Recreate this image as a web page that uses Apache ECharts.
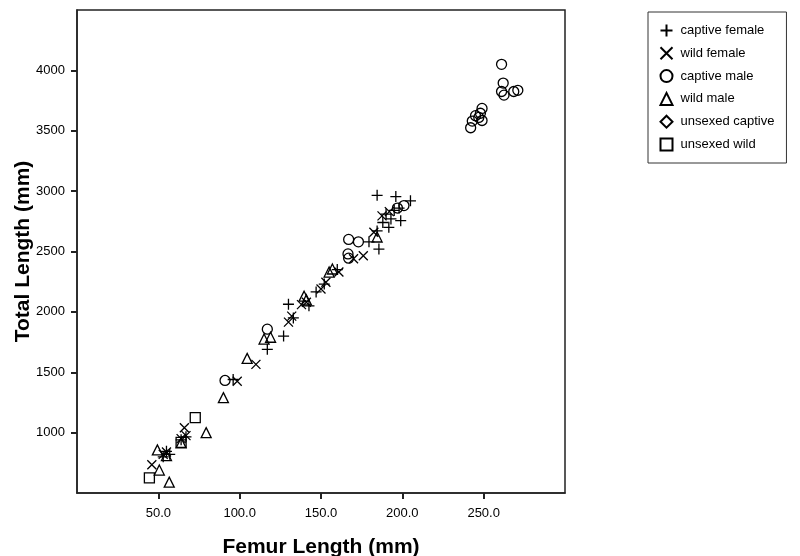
<!DOCTYPE html>
<html>
<head>
<meta charset="utf-8">
<script src="https://cdn.jsdelivr.net/npm/echarts@6/dist/echarts.min.js"></script>
<style>
  html, body { margin: 0; padding: 0; background: #fff; }
  #chart { width: 800px; height: 556px; }
</style>
</head>
<body>
<div id="chart"></div>
<script>
// femur length (mm), total length (mm)
var captiveFemale = [
  [184.5, 2965], [196, 2955], [205, 2920], [193, 2770], [199, 2755], [191.7, 2700],
  [184.5, 2670], [179.5, 2580], [185.6, 2520], [190, 2810], [195, 2840], [198, 2860],
  [188, 2740], [147, 2165], [142.6, 2050], [130, 2063], [133, 1950], [127, 1800],
  [117, 1690], [160, 2350], [152, 2230], [67, 965], [64, 940], [55, 845], [57, 820],
  [53, 800], [96, 1440]
];
var wildFemale = [
  [187.5, 2795], [182.5, 2660], [176, 2465], [192, 2830], [161, 2330], [153, 2245],
  [150, 2190], [141, 2080], [132, 1965], [130, 1915], [110, 1565], [98.5, 1425],
  [66, 1040], [67, 975], [64, 950], [55, 840], [53, 820], [46, 734], [170, 2440],
  [138, 2060]
];
var captiveMale = [
  [167, 2600], [173, 2580], [166.6, 2480], [167, 2445], [201, 2880], [197, 2860],
  [117, 1857], [91, 1432], [261, 4050], [262, 3895], [261, 3825], [262.5, 3795],
  [268.5, 3825], [271, 3835], [249, 3685], [248, 3645], [245, 3625], [247, 3610],
  [249, 3585], [243, 3580], [242, 3525]
];
var wildMale = [
  [184.5, 2620], [157, 2355], [155, 2330], [139.6, 2130], [141, 2100], [119, 1790],
  [115, 1775], [104.6, 1615], [90, 1290], [79.4, 1000], [64, 915], [49.4, 857],
  [55, 810], [50.6, 690], [56.7, 590]
];
var unsexedCaptive = [];
var unsexedWild = [[72.7, 1124], [44.5, 625], [64, 920]];

var xTicks = [50, 100, 150, 200, 250];
var yTicks = [1000, 1500, 2000, 2500, 3000, 3500, 4000];

var font = "'Liberation Sans', Arial, sans-serif";

function mk(name, data, symbol, size) {
  return {
    name: name,
    type: "scatter",
    data: data,
    symbol: symbol,
    symbolSize: size,
    itemStyle: { color: "none", borderColor: "#000", borderWidth: 1.3, opacity: 1 },
    emphasis: { disabled: true }
  };
}

var chart = echarts.init(document.getElementById("chart"));
chart.setOption({
  animation: false,
  backgroundColor: "#fff",
  grid: {
    left: 77, top: 10, right: 235, bottom: 63,
    show: true, borderColor: "#222", borderWidth: 1.5,
    containLabel: false, outerBoundsMode: "none"
  },
  legend: {
    orient: "vertical",
    left: 648,
    top: 12,
    padding: [10, 12, 10, 10],
    borderColor: "#333",
    borderWidth: 1,
    itemWidth: 12,
    itemHeight: 12,
    itemGap: 5.8,
    textStyle: { fontFamily: font, fontSize: 13, lineHeight: 13, color: "#000", padding: [0, 0, 0, 3] },
    data: ["captive female", "wild female", "captive male", "wild male", "unsexed captive", "unsexed wild"]
  },
  xAxis: {
    type: "value",
    min: 0, max: 300, interval: 50,
    name: "Femur Length (mm)",
    nameLocation: "middle",
    nameGap: 44,
    nameMoveOverlap: false,
    nameTextStyle: { fontFamily: font, fontSize: 21, fontWeight: "bold", color: "#000" },
    axisLine: { lineStyle: { color: "#222", width: 1.5 } },
    axisTick: { customValues: xTicks, length: 6, lineStyle: { color: "#222", width: 2 } },
    axisLabel: {
      customValues: xTicks, margin: 14,
      fontFamily: font, fontSize: 13, color: "#000",
      formatter: function (v) { return v.toFixed(1); }
    },
    splitLine: { show: false }
  },
  yAxis: {
    type: "value",
    min: 500, max: 4500, interval: 500,
    name: "Total Length (mm)",
    nameLocation: "middle",
    nameGap: 43,
    nameMoveOverlap: false,
    nameTextStyle: { fontFamily: font, fontSize: 21, fontWeight: "bold", color: "#000" },
    axisLine: { lineStyle: { color: "#222", width: 1.5 } },
    axisTick: { customValues: yTicks, length: 6, lineStyle: { color: "#222", width: 2 } },
    axisLabel: {
      customValues: yTicks, margin: 12,
      fontFamily: font, fontSize: 13, color: "#000",
      formatter: function (v) { return String(v); }
    },
    splitLine: { show: false }
  },
  series: [
    mk("captive female", captiveFemale, "path://M5,0 L5,10 M0,5 L10,5", 11),
    mk("wild female", wildFemale, "path://M0,0 L10,10 M10,0 L0,10", 9),
    mk("captive male", captiveMale, "circle", 10),
    mk("wild male", wildMale, "triangle", 10),
    mk("unsexed captive", unsexedCaptive, "diamond", 11),
    mk("unsexed wild", unsexedWild, "rect", 10)
  ]
});
</script>
</body>
</html>
